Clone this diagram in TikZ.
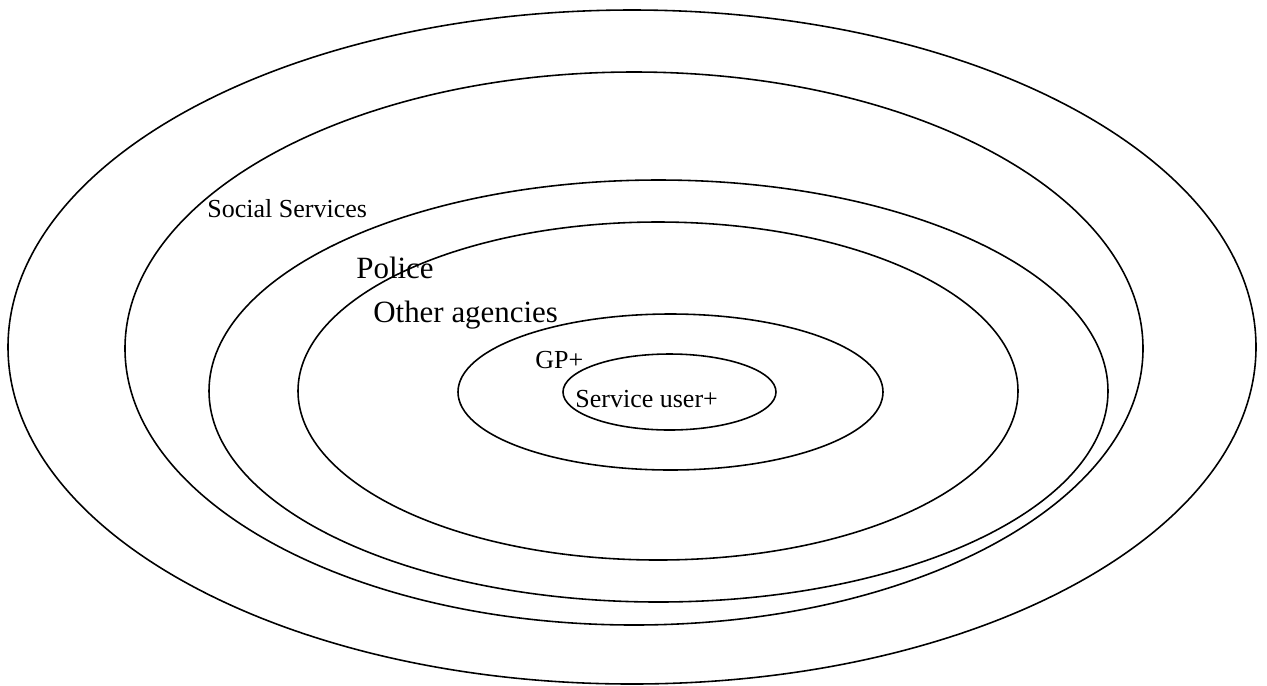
\documentclass[tikz,border=0pt]{standalone}
\usepackage{fontspec}
\setmainfont{Liberation Serif}
\usepackage{tikz}

\begin{document}
\begin{tikzpicture}[
    ring/.style={draw=black, line width=0.9pt},
    lab/.style={inner sep=0pt, anchor=base west, font=\fontsize{14.8}{16}\selectfont},
    biglab/.style={inner sep=0pt, anchor=base west, font=\fontsize{17.6}{19}\selectfont},
  ]
  \useasboundingbox (0,0) rectangle (25.34,-13.70);

  %% ---- nested rings, outermost first -------------------------------
  \draw[ring] (12.64,-6.94) ellipse [x radius=12.48, y radius=6.74];
  \draw[ring] (12.68,-6.97) ellipse [x radius=10.18, y radius=5.53];
  \draw[ring] (13.17,-7.82) ellipse [x radius=8.99,  y radius=4.22];
  \draw[ring] (13.16,-7.82) ellipse [x radius=7.20,  y radius=3.38];
  \draw[ring] (13.41,-7.84) ellipse [x radius=4.25,  y radius=1.56];
  \draw[ring] (13.39,-7.84) ellipse [x radius=2.13,  y radius=0.76];

  %% ---- ring labels ---------------------------------------------------
  \node[lab]    (social) at ( 4.14,-4.34) {Social Services};
  \node[biglab] (police) at ( 7.12,-5.56) {Police};
  \node[biglab] (other)  at ( 7.46,-6.44) {Other agencies};
  \node[lab]    (gp)     at (10.70,-7.36) {GP+};
  \node[lab]    (user)   at (11.50,-8.14) {Service user+};

\end{tikzpicture}
\end{document}
